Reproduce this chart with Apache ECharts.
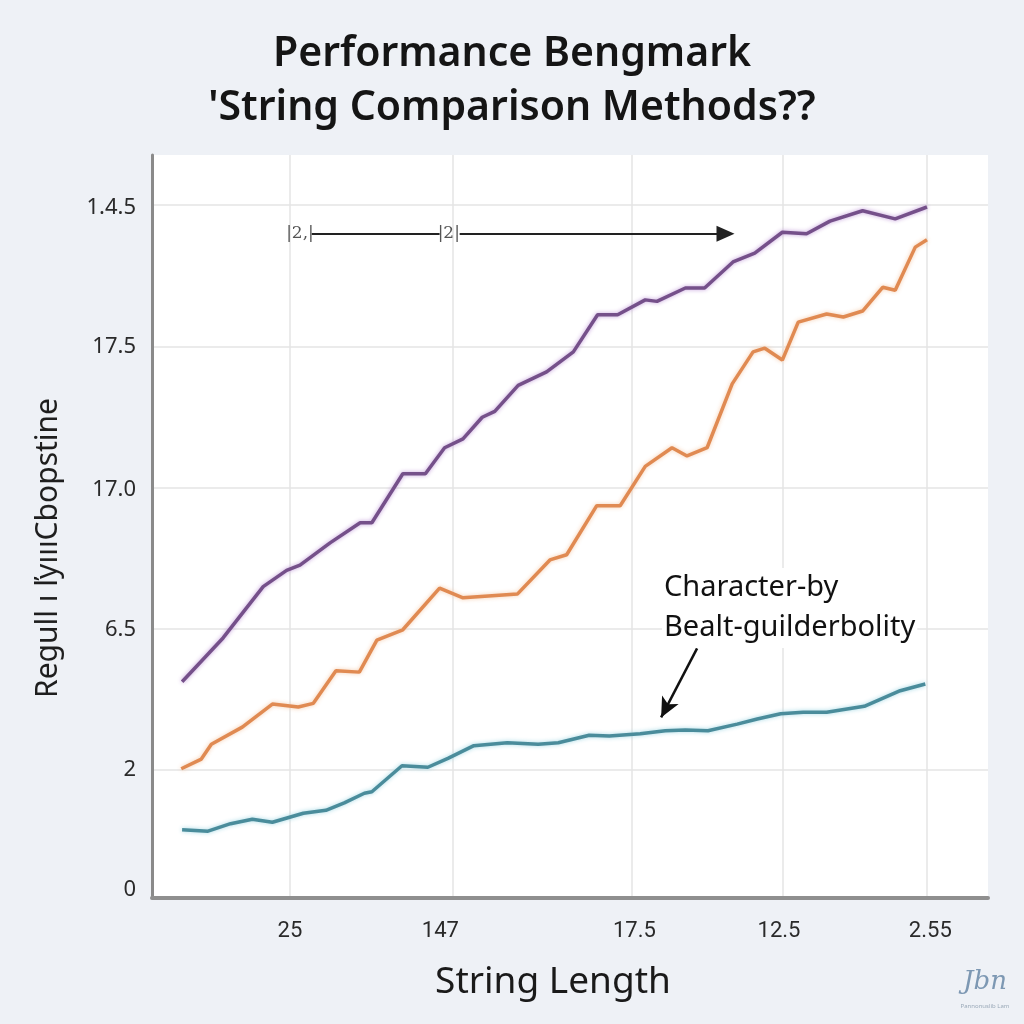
<!DOCTYPE html>
<html>
<head>
<meta charset="utf-8">
<script src="https://cdn.jsdelivr.net/npm/echarts@6/dist/echarts.min.js"></script>
<style>
html,body{margin:0;padding:0;background:#eef1f6;}
#chart{width:1024px;height:1024px;}
</style>
</head>
<body>
<div id="chart"></div>
<script>
// ---- data (x: string length units 0-100, y: relative cost units 0-100) ----
const purpleX = [3.6,8.5,13.3,16.1,17.7,21.3,24.9,26.3,30.0,32.7,35.0,37.2,39.5,41.0,43.8,47.2,50.4,53.3,55.7,59.0,60.4,63.8,66.1,69.5,72.1,75.4,78.3,81.1,85.0,88.9,92.7];
const purpleY = [29.1,35.0,41.9,44.1,44.8,47.8,50.5,50.5,57.1,57.1,60.6,61.8,64.7,65.5,69.0,70.8,73.5,78.5,78.5,80.5,80.3,82.1,82.1,85.6,86.8,89.6,89.4,91.1,92.5,91.4,93.0];

const orangeX = [3.5,5.9,7.1,10.8,14.4,17.5,19.3,22.0,24.8,26.9,30.0,34.4,37.2,43.7,47.6,49.6,53.2,56.0,59.0,62.2,64.0,66.4,69.4,71.9,73.3,75.4,77.3,80.7,82.7,85.0,87.4,88.9,91.3,92.7];
const orangeY = [17.4,18.7,20.7,23.0,26.1,25.7,26.2,30.6,30.4,34.7,36.1,41.7,40.4,40.9,45.5,46.2,52.8,52.8,58.1,60.6,59.5,60.6,69.2,73.5,74.0,72.4,77.5,78.6,78.2,79.0,82.2,81.8,87.6,88.6];

const tealX = [3.6,6.7,9.4,12.0,14.4,18.1,20.8,23.0,25.4,26.3,29.9,33.0,35.4,38.5,42.5,46.2,48.6,52.3,54.7,58.4,61.4,63.8,66.5,70.0,72.4,75.2,77.9,80.7,85.2,89.5,92.5];
const tealY = [9.2,9.0,10.0,10.6,10.2,11.4,11.8,12.8,14.1,14.3,17.8,17.6,18.8,20.5,20.9,20.7,20.9,21.9,21.8,22.1,22.5,22.6,22.5,23.4,24.1,24.8,25.0,25.0,25.8,27.9,28.8];

const xTickLabels = ['25','147','17.5','12.5','2.55'];
const xLabelAt = [16.5,34.5,57.7,75.0,93.1];
const xGridAt = [16.5,36.0,57.4,75.5,92.7];

const yTickLabels = ['1.4.5','17.5','17.0','6.5','2','0'];
const yLabelAt = [92.9,74.2,55.0,36.1,17.2,1.1];
const yGridAt = [93.3,74.2,55.2,36.2,17.2];

const titleLines = ['Performance Bengmark', "'String Comparison Methods??"];
const xName = 'String Length';
const yName = 'Regull ı ľyıııCbopstine';
const calloutText = ['Character-by', 'Bealt-guilderbolity'];
const bracketLabels = ['|2,|', '|2|'];

// ---- build ----
const zip = (xs, ys) => xs.map((x, i) => [x, ys[i]]);
const pick = (vals, labels) => v => {
  let best = 0, d = 1e9;
  vals.forEach((t, i) => { if (Math.abs(t - v) < d) { d = Math.abs(t - v); best = i; } });
  return labels[best];
};

function lineSeries(name, data, color, glow, extra) {
  return Object.assign({
    name: name, type: 'line', data: data, symbol: 'none', smooth: false,
    lineStyle: { color: color, width: 3.5, shadowColor: glow, shadowBlur: 4 },
    z: 3
  }, extra || {});
}

const chart = echarts.init(document.getElementById('chart'), null, { renderer: 'canvas' });
const option = {
  backgroundColor: '#eef1f6',
  animation: false,
  title: {
    text: titleLines.join('\n'),
    left: 'center', top: 22,
    textStyle: { fontFamily: 'Noto Sans', fontSize: 41, fontWeight: 600, color: '#151515', lineHeight: 54 }
  },
  grid: { left: 152, right: 36, top: 155, bottom: 126, show: true, backgroundColor: '#ffffff', borderWidth: 0 },
  xAxis: {
    type: 'value', min: 0, max: 100,
    name: xName, nameLocation: 'middle', nameGap: 66,
    nameTextStyle: { fontFamily: 'Noto Sans', fontSize: 37, color: '#1a1a1a', padding: [0, 34, 0, 0] },
    axisLine: { show: true, onZero: false, lineStyle: { color: '#8f8f8f', width: 4 } },
    axisTick: { show: false, customValues: xGridAt },
    axisLabel: { customValues: xLabelAt, formatter: pick(xLabelAt, xTickLabels), margin: 22,
      fontFamily: 'Liberation Sans Narrow, Roboto', fontSize: 22, color: '#2a2a2a' },
    splitLine: { show: true, lineStyle: { color: '#e4e4e4', width: 1.5 } }
  },
  yAxis: {
    type: 'value', min: 0, max: 100,
    axisLine: { show: true, onZero: false, lineStyle: { color: '#8a8a8a', width: 3 } },
    axisTick: { show: false, customValues: yGridAt },
    axisLabel: { customValues: yLabelAt, formatter: pick(yLabelAt, yTickLabels), margin: 16,
      fontFamily: 'Noto Sans', fontSize: 22, color: '#2a2a2a' },
    splitLine: { show: true, lineStyle: { color: '#e4e4e4', width: 1.5 } }
  },
  series: [
    lineSeries('Purple', zip(purpleX, purpleY), '#75508a', 'rgba(190,150,215,0.9)', {
      markLine: {
        silent: true, symbol: ['none', 'none'],
        lineStyle: { color: '#222', width: 2, type: 'solid' },
        label: { show: false },
        data: [
          [{ coord: [19.1, 89.4] }, { coord: [34.4, 89.4] }]
        ]
      },
      markPoint: {
        symbol: 'rect', symbolSize: 1, itemStyle: { color: 'rgba(0,0,0,0)' },
        label: { show: true, position: 'inside', fontFamily: 'DejaVu Serif', fontSize: 17, color: '#555' },
        data: [
          { coord: [17.7, 89.4], value: bracketLabels[0], label: { formatter: bracketLabels[0] } },
          { coord: [35.5, 89.4], value: bracketLabels[1], label: { formatter: bracketLabels[1] } }
        ]
      }
    }),
    lineSeries('Orange', zip(orangeX, orangeY), '#e08a52', 'rgba(245,200,165,0.9)', {
      markLine: {
        silent: true, symbol: ['none', 'triangle'], symbolSize: [16, 18],
        lineStyle: { color: '#222', width: 2, type: 'solid' },
        label: { show: false },
        data: [
          [{ coord: [36.8, 89.4] }, { coord: [68.6, 89.4] }]
        ]
      }
    }),
    lineSeries('Teal', zip(tealX, tealY), '#4a8c9b', 'rgba(160,215,228,0.95)', {
      markLine: {
        silent: true, symbol: ['none', 'arrow'], symbolSize: [14, 20],
        lineStyle: { color: '#111', width: 2.5, type: 'solid' },
        label: { show: false },
        data: [
          [{ coord: [65.2, 33.6] }, { coord: [60.9, 24.3] }]
        ]
      }
    })
  ],
  graphic: [
    { type: 'text', x: 48, y: 548, rotation: Math.PI / 2, z: 10,
      style: { text: yName, fontFamily: 'Noto Sans', fontSize: 30, fill: '#1e1e1e', textAlign: 'center', textVerticalAlign: 'middle' } },
    { type: 'text', x: 662, y: 608, z: 10,
      style: { text: calloutText.join('\n'), fontFamily: 'Noto Sans', fontSize: 29, lineHeight: 40, fill: '#111',
        textAlign: 'left', textVerticalAlign: 'middle', backgroundColor: '#ffffff', padding: [0, 2] } },
    { type: 'text', x: 985, y: 982, z: 10,
      style: { text: 'Jbn', fontFamily: 'DejaVu Serif', fontStyle: 'italic', fontSize: 26, fill: '#7d98b3', textAlign: 'center', textVerticalAlign: 'middle' } },
    { type: 'text', x: 985, y: 1006, z: 10,
      style: { text: 'Pannonuslib Lam', fontFamily: 'Noto Sans', fontSize: 6, fill: '#9aa9b8', textAlign: 'center', textVerticalAlign: 'middle' } }
  ]
};
chart.setOption(option);
</script>
</body>
</html>
